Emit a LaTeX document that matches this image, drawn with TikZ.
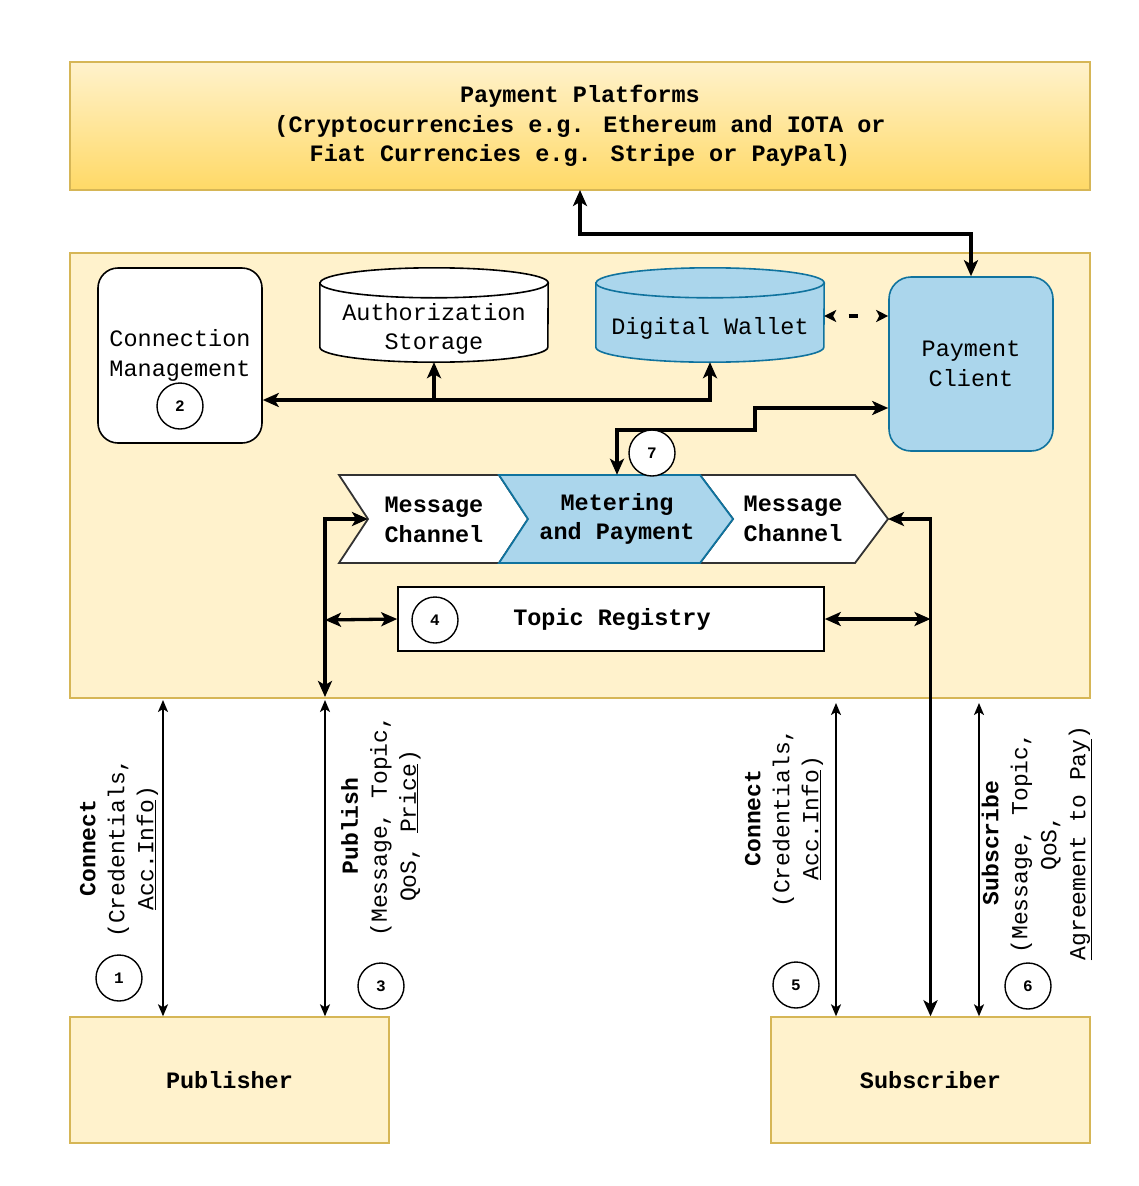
\documentclass[tikz,border=0pt]{standalone}
\usepackage{fontspec}
\setmainfont{Liberation Mono}
\usetikzlibrary{arrows.meta,calc}
\definecolor{yfill}{HTML}{FFF2CC}
\definecolor{yline}{HTML}{D6B656}
\definecolor{ydark}{HTML}{FFD966}
\definecolor{bfill}{HTML}{ABD6EC}
\definecolor{bline}{HTML}{10739E}
\definecolor{cline}{HTML}{333333}
\begin{document}
\begin{tikzpicture}[x=1pt,y=-1pt,
  >={Stealth[length=16pt,width=14pt,inset=4pt]},
  txt/.style={font=\fontsize{23.5}{29.5}\selectfont, align=center, inner sep=0pt},
  btxt/.style={font=\fontsize{23.5}{29.5}\selectfont\bfseries, align=center, inner sep=0pt},
  ltxt/.style={font=\fontsize{23}{29}\selectfont, align=center, inner sep=0pt, rotate=90},
  ybox/.style={draw=yline, line width=1.4pt, fill=yfill, inner sep=0pt},
  wbox/.style={draw=black, line width=1.6pt, fill=white, inner sep=0pt},
  ghost/.style={inner sep=0pt},
  num/.style={circle, draw=black, line width=1.4pt, fill=white, minimum size=46pt, inner sep=0pt, font=\fontsize{16}{16}\selectfont\bfseries},
  tk/.style={line width=3.3pt},
  tn/.style={line width=1.8pt, >={Stealth[length=12pt,width=10pt,inset=3pt]}},
  chev/.style={draw=cline, line width=1.8pt, fill=white, line join=miter},
]
\useasboundingbox (0,0) rectangle (1138,1186);

% Payment platforms
\node[ybox, top color=yfill, bottom color=ydark, minimum width=1020pt, minimum height=128pt, btxt] (pp) at (580,126)
  {Payment Platforms\\(Cryptocurrencies e.g. Ethereum and IOTA or\\Fiat Currencies e.g. Stripe or PayPal)};

% Broker container
\node[ybox, minimum width=1020pt, minimum height=445pt] (core) at (580,475.5) {};

% Connection management
\node[wbox, rounded corners=20pt, minimum width=164pt, minimum height=175pt, txt] (cm) at (180,355.5) {Connection\\Management};
\node[num] (n2) at (180,406) {2};

% Authorization storage (cylinder)
\node[ghost, minimum width=228pt, minimum height=94pt] (auth) at (434,315) {};
\draw[line width=1.6pt, fill=white] ($(auth.north west)+(0,15)$) -- ($(auth.south west)+(0,-15)$)
  arc[start angle=180,end angle=360,x radius=114pt,y radius=15pt] -- ($(auth.north east)+(0,15)$)
  arc[start angle=0,end angle=180,x radius=114pt,y radius=15pt] -- cycle;
\draw[line width=1.6pt] ($(auth.north west)+(0,15)$) arc[start angle=180,end angle=360,x radius=114pt,y radius=15pt];
\node[txt] (authtxt) at (434,329) {Authorization\\Storage};

% Digital wallet (cylinder)
\node[ghost, minimum width=228pt, minimum height=94pt] (wallet) at (710,315) {};
\draw[line width=1.6pt, draw=bline, fill=bfill] ($(wallet.north west)+(0,15)$) -- ($(wallet.south west)+(0,-15)$)
  arc[start angle=180,end angle=360,x radius=114pt,y radius=15pt] -- ($(wallet.north east)+(0,15)$)
  arc[start angle=0,end angle=180,x radius=114pt,y radius=15pt] -- cycle;
\draw[line width=1.6pt, draw=bline] ($(wallet.north west)+(0,15)$) arc[start angle=180,end angle=360,x radius=114pt,y radius=15pt];
\node[txt] (wallettxt) at (710,328) {Digital Wallet};

% Payment client
\node[draw=bline, line width=1.6pt, fill=bfill, rounded corners=22pt, minimum width=164pt, minimum height=174pt, txt] (pc) at (971,364) {Payment\\Client};

% Chevrons
\draw[chev] (339,475) -- (499,475) -- (528,519) -- (499,563) -- (339,563) -- (368,519) -- cycle;
\draw[chev] (700,475) -- (855,475) -- (888,519) -- (855,563) -- (700,563) -- (733,519) -- cycle;
\draw[chev, draw=bline, fill=bfill] (499,475) -- (700,475) -- (733,519) -- (700,563) -- (499,563) -- (528,519) -- cycle;
\coordinate (n1) at (368,519);
\coordinate (t3) at (888,519);
\node[btxt] (mc1) at (434,520) {Message\\Channel};
\node[ghost, minimum width=200pt, minimum height=88pt] (mp) at (617,519) {};
\node[btxt] (mptxt) at (617,519) {Metering\\and Payment};
\node[btxt] (mc2) at (793,519) {Message\\Channel};

% Topic registry
\node[wbox, minimum width=426pt, minimum height=64pt, btxt] (tr) at (611,619) {\hspace*{2pt}Topic Registry};
\node[num] (n4) at (435,620) {4};

% Publisher / Subscriber
\node[ybox, minimum width=319pt, minimum height=126pt, btxt] (pub) at (229.5,1080) {Publisher};
\node[ybox, minimum width=319pt, minimum height=126pt, btxt] (sub) at (930.5,1080) {Subscriber};

% Thick connectors
\coordinate (ppin) at (580,190);
\draw[tk,<->] (ppin) -- (ppin |- 0,234) -| (pc.north);
\draw[tk,<->] (cm.east |- 0,400) -- (wallet.south |- 0,400) -- (wallet.south);
\draw[tk,->] (auth.south |- 0,400) -- (auth.south);
\draw[tk,<->, dash pattern=on 0pt off 16pt on 9pt off 40pt, >={Stealth[length=12pt,width=12pt,inset=3pt]}] (wallet.east |- 0,316) -- (pc.west |- 0,316);
\draw[tk,<->] (mp.north) |- (755,430) |- (pc.west |- 0,408);
\node[num] (n7) at (652,453) {7};

\coordinate (lbot) at (325,697);
\coordinate (lj) at (325,620);
\draw[tk,<->] (n1) -| (lbot);
\draw[tk,<->] (lj) -- (tr.west);
\draw[tk,<->] (t3) -| (sub.north);
\draw[tk,<->] (tr.east) -- (tr.east -| sub.north);

% Thin connectors
\coordinate (a1) at (163,700);
\coordinate (a3) at (325,700);
\coordinate (a5) at (836,703);
\coordinate (a6) at (979,703);
\draw[tn,<->] (a1) -- (a1 |- pub.north);
\draw[tn,<->] (a3) -- (a3 |- pub.north);
\draw[tn,<->] (a5) -- (a5 |- sub.north);
\draw[tn,<->] (a6) -- (a6 |- sub.north);

% Labels
\node[ltxt] (l1) at (119,848) {\textbf{Connect}\\(Credentials,\\\underline{Acc.Info})};
\node[ltxt] (l3) at (381,826) {\textbf{Publish}\\(Message, Topic,\\QoS, \underline{Price})};
\node[ltxt] (l5) at (784,818) {\textbf{Connect}\\(Credentials,\\\underline{Acc.Info})};
\node[ltxt] (l6) at (1037,843) {\textbf{Subscribe}\\(Message, Topic,\\QoS,\\\underline{Agreement to Pay})};

\node[num] (n1c) at (119,978) {1};
\node[num] (n3c) at (381,986) {3};
\node[num] (n5c) at (796,985) {5};
\node[num] (n6c) at (1028,986) {6};
\end{tikzpicture}
\end{document}
